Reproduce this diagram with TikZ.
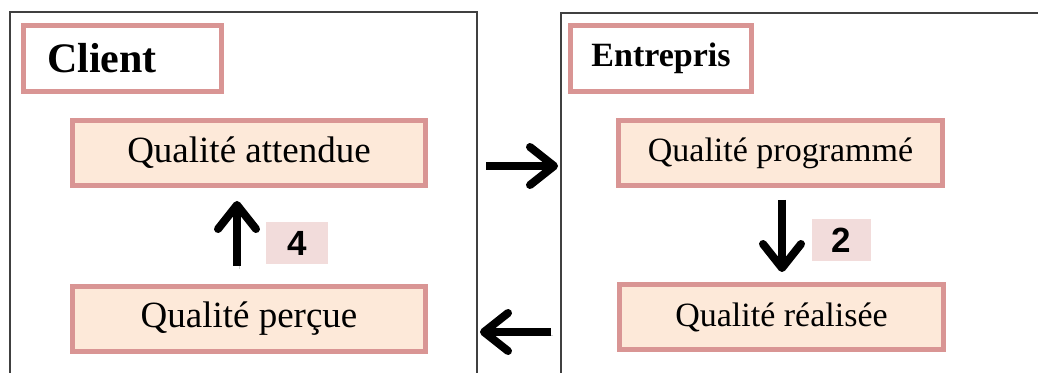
\documentclass[tikz,border=0pt]{standalone}
\usepackage{fontspec}
\setmainfont{Liberation Serif}
\newfontfamily\numfont{Liberation Sans}
\usepackage{xcolor}
\usetikzlibrary{arrows.meta}
\usetikzlibrary{positioning}
\definecolor{boxborder}{HTML}{D99594}
\definecolor{boxfill}{HTML}{FDE9D9}
\definecolor{numfill}{HTML}{F2DCDB}
\definecolor{frameline}{HTML}{404040}
\tikzset{
side frame/.style = { draw = frameline, line width = 0.8pt },
title box/.style = { rectangle, draw = boxborder, fill = white, line width = 2.5pt, minimum height = 33pt, inner sep = 0pt },
quality box/.style = { rectangle, draw = boxborder, fill = boxfill, line width = 2.5pt, minimum height = 32.5pt, inner sep = 0pt, font = \fontsize{18.5}{20}\selectfont },
step number/.style = { rectangle, fill = numfill, minimum width = 31pt, minimum height = 21pt, inner sep = 0pt, font = \numfont\bfseries\fontsize{17.5}{19}\selectfont },
flow arrow/.style = { line width = 4pt, -{Straight Barb[length = 12pt, width = 19pt, round]},
        preaction = { draw = black!18, transform canvas = { shift = {(1pt, -1.5pt)} } } },
}

\begin{document}
\begin{tikzpicture}[x = 0.5pt, y = -0.5pt]
      \useasboundingbox (0, 0) rectangle (1038, 373);
      % the two sides
      \draw[side frame] (10, 373) -- (10, 12) -- (477, 12) -- (477, 373);
      \draw[side frame] (561, 373) -- (561, 13) -- (1038, 13);
      \node[title box, minimum width = 99pt, text width = 75.5pt, align = left] (client) at (122.5, 58.5) {\raisebox{-2.5pt}{\bfseries\fontsize{21}{23}\selectfont Client}};
      \node[title box, minimum width = 90.5pt, font = \bfseries\fontsize{17}{19}\selectfont] (entreprise) at (661, 58.5) {Entrepris};
      \node[quality box, minimum width = 176.5pt] (attendue) at (249, 153) {Qualité attendue};
      \node[quality box, minimum width = 176.5pt] (percue) at (249, 319) {Qualité perçue};
      \node[quality box, minimum width = 162pt, font = \fontsize{17}{19}\selectfont] (programme) at (780.5, 153.5) {Qualité programmé};
      \node[quality box, minimum width = 162pt, font = \fontsize{17}{19}\selectfont] (realisee) at (781.5, 317.5) {Qualité réalisée};
      \node[step number] (num4) at (297, 243) {4};
      \node[step number, minimum width = 29.5pt] (num2) at (841.5, 240) {2};
      % arrows
      \coordinate (up start) at (237, 266);
      \coordinate (up end) at (237, 201);
      \coordinate (down start) at (782, 200);
      \coordinate (down end) at (782, 272);
      \coordinate (go start) at (486, 166);
      \coordinate (go end) at (558, 166);
      \coordinate (back start) at (551, 332);
      \coordinate (back end) at (480, 332);
      \draw[flow arrow] (up start) -- (up end);
      \draw[flow arrow] (down start) -- (down end);
      \draw[flow arrow] (go start) -- (go end);
      \draw[flow arrow] (back start) -- (back end);
\end{tikzpicture}
\end{document}
